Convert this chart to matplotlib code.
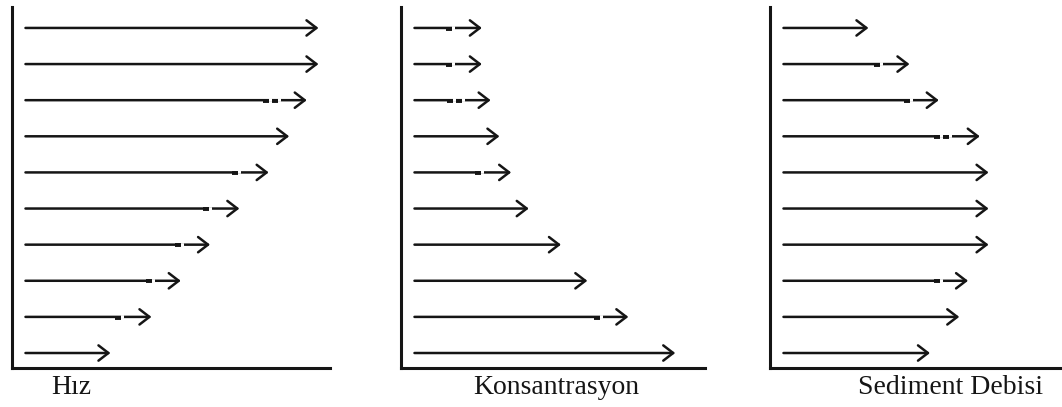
import matplotlib
matplotlib.use("Agg")
import matplotlib.pyplot as plt

# arrow lengths (units of one segment) for the 10 rows, top to bottom
hiz = [10.0, 10.0, 9.6, 9.0, 8.3, 7.3, 6.3, 5.3, 4.3, 2.9]
konsantrasyon = [2.3, 2.3, 2.6, 2.9, 3.3, 3.9, 5.0, 5.9, 7.3, 8.9]
sediment = [2.9, 4.3, 5.3, 6.7, 7.0, 7.0, 7.0, 6.3, 6.0, 5.0]

# short thick dashes near the arrow tips: (row, position from the axis)
hiz_marks = [(2, 8.67), (2, 8.98), (4, 7.61), (5, 6.62), (6, 5.67), (7, 4.68), (8, 3.62)]
kons_marks = [(0, 1.64), (1, 1.64), (2, 1.67), (2, 1.98), (4, 2.63), (8, 6.69)]
sed_marks = [(1, 3.65), (2, 4.68), (3, 5.70), (3, 6.00), (7, 5.70)]

labels = ["Hız", "Konsantrasyon", "Sediment Debisi"]

W, H = 1062, 407
unit = 29.3  # px per segment
start = 0.46  # arrow start offset from the vertical axis
color = "#151515"

# panel frames in pixels: (left, right) of each axis, shared top/bottom
frames = [(12, 330), (401, 705), (770, 1060)]
top, bottom = 7, 368
label_x = [71, 556, 951]
label_y = 388

fig = plt.figure(figsize=(W / 100, H / 100), dpi=100)

panels = [(hiz, hiz_marks), (konsantrasyon, kons_marks), (sediment, sed_marks)]
for (lengths, marks), (l, r), lab, lx in zip(panels, frames, labels, label_x):
    ax = fig.add_axes([l / W, (H - bottom) / H, (r - l) / W, (bottom - top) / H])
    ax.set_xlim(0, (r - l) / unit)
    ax.set_ylim(-0.415, 9.58)
    n = len(lengths)
    for i, length in enumerate(lengths):
        y = n - 1 - i
        ax.annotate("", xy=(start + length, y), xytext=(start, y),
                    arrowprops=dict(arrowstyle="->,head_length=0.65,head_width=0.5",
                                    lw=1.8, color=color, shrinkA=0, shrinkB=0,
                                    mutation_scale=11))
    for row, pos in marks:
        y = n - 1 - row
        # small gap after the dash, then the dash itself
        ax.plot([pos + 0.11, pos + 0.2], [y, y], color="white", lw=2.6,
                solid_capstyle="butt", zorder=3)
        ax.plot([pos - 0.11, pos + 0.11], [y - 0.02, y - 0.02], color=color,
                lw=2.8, solid_capstyle="butt", zorder=4)
    for side in ["top", "right"]:
        ax.spines[side].set_visible(False)
    for side in ["left", "bottom"]:
        ax.spines[side].set_linewidth(2.2)
        ax.spines[side].set_color(color)
    ax.set_xticks([])
    ax.set_yticks([])
    ax.patch.set_alpha(0)
    fig.text(lx / W, 1 - label_y / H, lab, ha="center", va="center",
             fontsize=20, family="Liberation Serif", color=color)

fig.savefig("out.png", dpi=100)
